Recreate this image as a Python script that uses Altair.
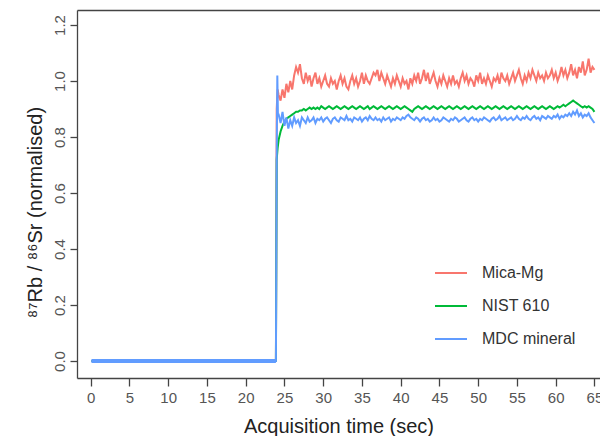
import altair as alt
import pandas as pd

series_names = ["Mica-Mg", "NIST 610", "MDC mineral"]
series_colors = ["#F8766D", "#00BA38", "#619CFF"]

x_ticks = [0, 5, 10, 15, 20, 25, 30, 35, 40, 45, 50, 55, 60, 65]
y_ticks = [0.0, 0.2, 0.4, 0.6, 0.8, 1.0, 1.2]

# pre-signal baseline (gas blank) and signal onset
t_baseline = [0.1, 23.9]
v_baseline = [0.0, 0.0]

t_onset = {
    "Mica-Mg": [24.0, 24.12],
    "NIST 610": [24.0, 24.12],
    "MDC mineral": [24.0, 24.08, 24.16],
}
v_onset = {
    "Mica-Mg": [0.90, 0.97],
    "NIST 610": [0.72, 0.76],
    "MDC mineral": [0.73, 1.02, 0.88],
}

# signal values sampled every 0.25 s from 24.25 s to 65.0 s
grid_start = 24.25
grid_step = 0.25

mica_mg = [
    0.95, 0.93, 0.97, 0.94, 0.99, 0.96, 1.00, 0.97, 1.02, 1.05,
    1.03, 1.06, 1.01, 0.99, 1.03, 1.00, 1.02, 0.98, 1.01, 1.03,
    0.99, 1.01, 0.98, 1.00, 1.02, 0.99, 0.98, 1.01, 0.99, 1.00,
    0.97, 1.00, 1.02, 0.99, 1.01, 0.98, 0.97, 1.00, 1.02, 0.99,
    1.01, 0.98, 1.00, 1.03, 0.99, 1.02, 1.00, 0.99, 1.01, 1.03,
    1.02, 1.04, 1.00, 1.03, 1.01, 0.99, 1.02, 1.00, 0.98, 1.01,
    0.99, 1.02, 1.00, 0.98, 1.01, 0.99, 1.00, 0.97, 1.01, 0.99,
    1.02, 1.00, 1.03, 0.99, 1.01, 1.04, 1.00, 1.03, 0.99, 1.01,
    1.03, 1.00, 0.98, 1.01, 0.99, 1.02, 1.00, 0.98, 1.01, 0.99,
    1.02, 0.99, 1.00, 0.98, 1.01, 1.03, 1.00, 1.02, 0.99, 1.01,
    1.00, 0.98, 1.02, 1.00, 1.03, 0.99, 1.01, 0.99, 1.02, 1.00,
    0.98, 1.01, 1.00, 1.02, 0.99, 1.03, 1.01, 1.00, 1.02, 0.99,
    1.01, 1.03, 1.00, 1.02, 1.04, 1.01, 0.99, 1.02, 1.00, 1.03,
    1.01, 1.04, 1.02, 1.00, 1.03, 1.01, 1.02, 1.00, 1.03, 1.01,
    1.02, 1.04, 1.01, 1.03, 1.00, 1.02, 1.05, 1.02, 1.04, 1.01,
    1.03, 1.06, 1.02, 1.04, 1.01, 1.05, 1.03, 1.07, 1.02, 1.04,
    1.08, 1.03, 1.05, 1.04,
]
nist_610 = [
    0.79, 0.82, 0.84, 0.855, 0.865, 0.87, 0.875, 0.88, 0.885, 0.89,
    0.89, 0.895, 0.895, 0.90, 0.895, 0.90, 0.905, 0.90, 0.905, 0.90,
    0.905, 0.90, 0.91, 0.905, 0.90, 0.905, 0.91, 0.905, 0.90, 0.905,
    0.91, 0.905, 0.90, 0.905, 0.91, 0.905, 0.90, 0.905, 0.91, 0.905,
    0.90, 0.905, 0.91, 0.905, 0.90, 0.905, 0.91, 0.90, 0.905, 0.91,
    0.905, 0.90, 0.905, 0.91, 0.905, 0.90, 0.905, 0.91, 0.905, 0.90,
    0.905, 0.91, 0.905, 0.90, 0.905, 0.91, 0.905, 0.90, 0.895, 0.89,
    0.90, 0.905, 0.91, 0.905, 0.90, 0.905, 0.91, 0.905, 0.90, 0.905,
    0.91, 0.905, 0.90, 0.905, 0.91, 0.905, 0.90, 0.905, 0.91, 0.905,
    0.90, 0.905, 0.91, 0.905, 0.90, 0.905, 0.91, 0.905, 0.90, 0.905,
    0.91, 0.905, 0.90, 0.905, 0.91, 0.905, 0.90, 0.905, 0.91, 0.905,
    0.90, 0.905, 0.91, 0.905, 0.90, 0.905, 0.91, 0.905, 0.90, 0.905,
    0.91, 0.905, 0.90, 0.905, 0.91, 0.905, 0.90, 0.905, 0.91, 0.905,
    0.90, 0.905, 0.91, 0.905, 0.90, 0.905, 0.91, 0.905, 0.90, 0.905,
    0.91, 0.905, 0.90, 0.905, 0.91, 0.905, 0.91, 0.915, 0.91, 0.915,
    0.92, 0.925, 0.93, 0.925, 0.92, 0.915, 0.91, 0.905, 0.91, 0.905,
    0.91, 0.905, 0.90, 0.89,
]
mdc_mineral = [
    0.88, 0.85, 0.89, 0.84, 0.87, 0.83, 0.86, 0.84, 0.87, 0.85,
    0.86, 0.84, 0.87, 0.86, 0.85, 0.87, 0.855, 0.86, 0.87, 0.85,
    0.865, 0.86, 0.87, 0.855, 0.865, 0.87, 0.86, 0.85, 0.865, 0.87,
    0.86, 0.855, 0.87, 0.865, 0.86, 0.875, 0.86, 0.865, 0.855, 0.87,
    0.865, 0.86, 0.87, 0.855, 0.865, 0.87, 0.86, 0.875, 0.865, 0.86,
    0.87, 0.86, 0.865, 0.855, 0.87, 0.86, 0.865, 0.87, 0.855, 0.865,
    0.86, 0.87, 0.865, 0.86, 0.87, 0.865, 0.875, 0.88, 0.87, 0.865,
    0.86, 0.87, 0.865, 0.855, 0.865, 0.87, 0.86, 0.865, 0.855, 0.86,
    0.87, 0.86, 0.865, 0.855, 0.86, 0.87, 0.865, 0.86, 0.855, 0.865,
    0.86, 0.87, 0.865, 0.855, 0.86, 0.865, 0.87, 0.86, 0.855, 0.865,
    0.87, 0.86, 0.865, 0.855, 0.865, 0.86, 0.87, 0.865, 0.86, 0.855,
    0.865, 0.87, 0.86, 0.865, 0.875, 0.86, 0.865, 0.87, 0.86, 0.865,
    0.87, 0.86, 0.865, 0.875, 0.865, 0.86, 0.87, 0.865, 0.875, 0.865,
    0.86, 0.87, 0.875, 0.865, 0.87, 0.86, 0.875, 0.87, 0.865, 0.875,
    0.87, 0.865, 0.875, 0.87, 0.88, 0.865, 0.875, 0.87, 0.88, 0.875,
    0.885, 0.875, 0.89, 0.88, 0.895, 0.875, 0.885, 0.87, 0.88, 0.875,
    0.885, 0.87, 0.86, 0.85,
]
signal = {"Mica-Mg": mica_mg, "NIST 610": nist_610, "MDC mineral": mdc_mineral}

rows = []
for name in series_names:
    for t, v in zip(t_baseline, v_baseline):
        rows.append({"series": name, "t": t, "v": v})
    for t, v in zip(t_onset[name], v_onset[name]):
        rows.append({"series": name, "t": t, "v": v})
    for i, v in enumerate(signal[name]):
        rows.append({"series": name, "t": round(grid_start + grid_step * i, 3), "v": v})
df = pd.DataFrame(rows)

df_base = pd.DataFrame({"t0": [t_baseline[0]], "t1": [t_baseline[-1]], "v": [v_baseline[0]]})

FONT = "Liberation Sans"
AX = "#444444"

xscale = alt.Scale(domain=[-1.77, 65.72], nice=False, zero=False)
yscale = alt.Scale(domain=[-0.0607, 1.2536], nice=False, zero=False)

bottom_axis = alt.Axis(
    values=x_ticks, format="d", grid=False,
    domainColor=AX, domainWidth=1.3, tickColor=AX, tickWidth=1.3, tickSize=8,
    labelFont=FONT, labelFontSize=15, labelColor="#555555", labelPadding=4,
    labelFlush=False, labelOverlap=False, labelBound=False,
    title="Acquisition time (sec)", titleFont=FONT, titleFontSize=20,
    titleFontWeight="normal", titleColor="#222222",
    titleY=54, titleBaseline="alphabetic",
)
left_axis = alt.Axis(
    values=y_ticks, format=".1f", grid=False,
    domainColor=AX, domainWidth=1.3, tickColor=AX, tickWidth=1.3, tickSize=7,
    labelFont=FONT, labelFontSize=15, labelColor="#555555",
    labelAngle=270, labelAlign="center", labelBaseline="bottom", labelPadding=3,
    title="⁸⁷Rb / ⁸⁶Sr (normalised)", titleFont=FONT, titleFontSize=20,
    titleFontWeight="normal", titleColor="#222222",
    titleAngle=270, titleX=-42, titleY=202, titleAlign="center", titleBaseline="middle",
)
top_axis = alt.Axis(
    orient="top", labels=False, ticks=False, title=None, grid=False,
    domainColor=AX, domainWidth=1.3,
)

lines = alt.Chart(df).mark_line(strokeWidth=2, clip=True).encode(
    x=alt.X("t:Q", scale=xscale, axis=bottom_axis),
    y=alt.Y("v:Q", scale=yscale, axis=left_axis),
    color=alt.Color(
        "series:N",
        scale=alt.Scale(domain=series_names, range=series_colors),
        legend=alt.Legend(
            title=None, orient="none", legendX=357, legendY=246,
            symbolType="stroke", symbolSize=1024, symbolStrokeWidth=2,
            labelFont=FONT, labelFontSize=16, labelColor="#333333",
            labelOffset=14, rowPadding=8, padding=0,
        ),
    ),
    order=alt.Order("t:Q"),
)

baseline = alt.Chart(df_base).mark_rule(strokeWidth=4, color=series_colors[2]).encode(
    x=alt.X("t0:Q", scale=xscale, axis=None),
    x2="t1:Q",
    y=alt.Y("v:Q", scale=yscale, axis=None),
)

top_border = alt.Chart(df_base).mark_rule(opacity=0).encode(
    x=alt.X("t0:Q", scale=xscale, axis=top_axis),
)

chart = (
    alt.layer(lines, baseline, top_border)
    .resolve_axis(x="independent", y="independent")
    .properties(
        width=523, height=368,
        padding={"left": 77, "top": 10, "right": 0, "bottom": 58},
        autosize=alt.AutoSizeParams(type="none"),
        background="white",
    )
    .configure_view(stroke=None)
)

chart.save("out.html", embed_options={"renderer": "svg", "actions": False})
